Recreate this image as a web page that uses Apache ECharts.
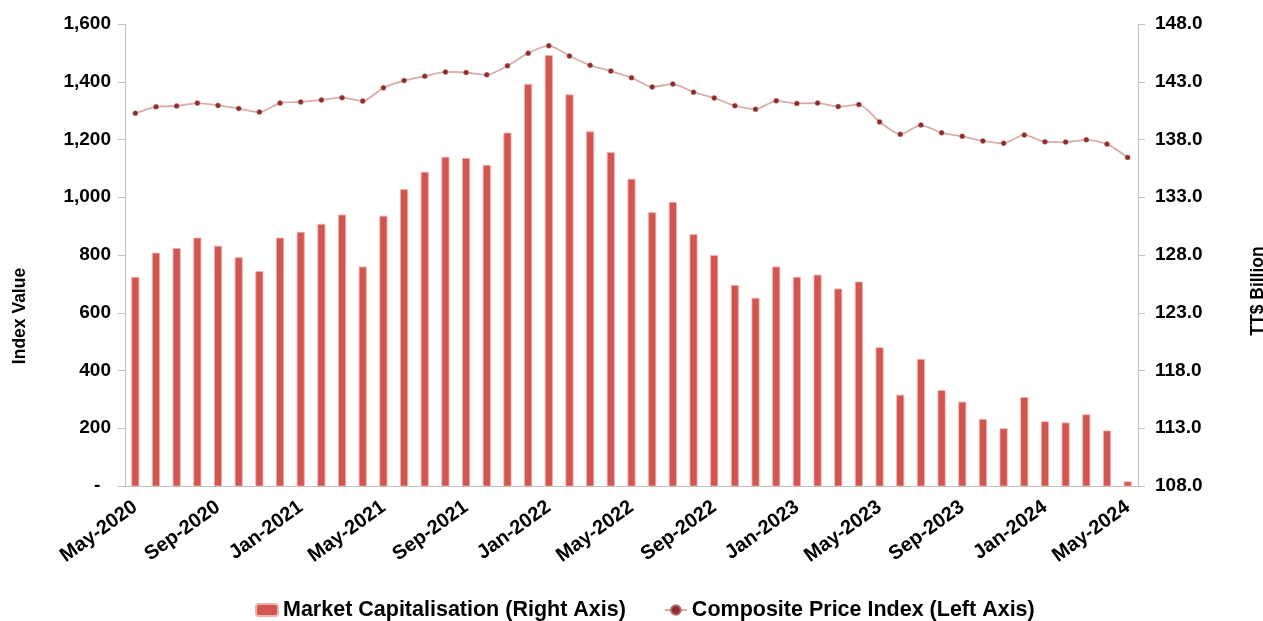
<!DOCTYPE html>
<html>
<head>
<meta charset="utf-8">
<script src="https://cdn.jsdelivr.net/npm/echarts@6/dist/echarts.min.js"></script>
<style>
html,body{margin:0;padding:0;background:#fff;overflow:hidden;}
#chart{width:1263px;height:621px;}
</style>
</head>
<body>
<div id="chart"></div>
<script>
const categories = [
  'May-2020','Jun-2020','Jul-2020','Aug-2020','Sep-2020','Oct-2020','Nov-2020','Dec-2020',
  'Jan-2021','Feb-2021','Mar-2021','Apr-2021','May-2021','Jun-2021','Jul-2021','Aug-2021',
  'Sep-2021','Oct-2021','Nov-2021','Dec-2021','Jan-2022','Feb-2022','Mar-2022','Apr-2022',
  'May-2022','Jun-2022','Jul-2022','Aug-2022','Sep-2022','Oct-2022','Nov-2022','Dec-2022',
  'Jan-2023','Feb-2023','Mar-2023','Apr-2023','May-2023','Jun-2023','Jul-2023','Aug-2023',
  'Sep-2023','Oct-2023','Nov-2023','Dec-2023','Jan-2024','Feb-2024','Mar-2024','Apr-2024',
  'May-2024'
];
// Market Capitalisation, TT$ Billion (right axis)
const marketCap = [
  126.1, 128.2, 128.6, 129.5, 128.8, 127.8, 126.6, 129.5, 130.0, 130.7,
  131.5, 127.0, 131.4, 133.7, 135.2, 136.5, 136.4, 135.8, 138.6, 142.8,
  145.3, 141.9, 138.7, 136.9, 134.6, 131.7, 132.6, 129.8, 128.0, 125.4,
  124.3, 127.0, 126.1, 126.3, 125.1, 125.7, 120.0, 115.9, 119.0, 116.3,
  115.3, 113.8, 113.0, 115.7, 113.6, 113.5, 114.2, 112.8, 108.4
];
// Composite Price Index (left axis)
const compositeIndex = [
  1291, 1313, 1316, 1326, 1318, 1307, 1295, 1326, 1330, 1337,
  1345, 1333, 1379, 1404, 1419, 1434, 1432, 1424, 1455, 1499,
  1525, 1489, 1457, 1437, 1414, 1382, 1392, 1364, 1344, 1317,
  1305, 1334, 1325, 1326, 1314, 1321, 1261, 1218, 1250, 1223,
  1211, 1195, 1187, 1216, 1192, 1191, 1199, 1184, 1138
];
const seriesNames = ['Market Capitalisation (Right Axis)', 'Composite Price Index (Left Axis)'];
const axisNames = ['Index Value', 'TT$ Billion'];

const FONT = '"Liberation Sans", Arial, sans-serif';
const axisLineStyle = { color: '#bfbfbf', width: 1 };

const chart = echarts.init(document.getElementById('chart'), null, { renderer: 'canvas' });
chart.setOption({
  animation: false,
  backgroundColor: '#ffffff',
  grid: { left: 125, right: 125, top: 24, bottom: 135, containLabel: false, outerBoundsMode: 'none' },
  legend: {
    left: 255, top: 599, padding: 0,
    itemWidth: 22, itemHeight: 12, itemGap: 38,
    textStyle: { fontFamily: FONT, fontWeight: 'bold', fontSize: 21.5, color: '#000' },
    data: seriesNames
  },
  xAxis: {
    type: 'category',
    data: categories,
    boundaryGap: true,
    axisLine: { lineStyle: axisLineStyle },
    axisTick: { interval: 3, length: 6, lineStyle: axisLineStyle },
    axisLabel: {
      interval: 3, rotate: 36, margin: 19,
      fontFamily: FONT, fontWeight: 'bold', fontSize: 20, color: '#000'
    },
    splitLine: { show: false }
  },
  yAxis: [
    {
      type: 'value', position: 'left',
      min: 0, max: 1600, interval: 200,
      name: axisNames[0], nameLocation: 'middle', nameGap: 96,
      nameTextStyle: { fontFamily: FONT, fontWeight: 'bold', fontSize: 17.5, color: '#000', padding: [0, 122, 0, 0] },
      axisLine: { show: true, lineStyle: axisLineStyle },
      axisTick: { show: true, length: 7, lineStyle: axisLineStyle },
      axisLabel: {
        margin: 14, fontFamily: FONT, fontWeight: 'bold', fontSize: 19, color: '#000',
        formatter: function (v) { return v === 0 ? '-  ' : v.toLocaleString('en-US'); }
      },
      splitLine: { show: false }
    },
    {
      type: 'value', position: 'right',
      min: 108, max: 148, interval: 5,
      name: axisNames[1], nameLocation: 'middle', nameGap: 111,
      nameTextStyle: { fontFamily: FONT, fontWeight: 'bold', fontSize: 17.5, color: '#000', padding: [0, 72, 0, 0] },
      axisLine: { show: true, lineStyle: axisLineStyle },
      axisTick: { show: true, length: 7, lineStyle: axisLineStyle },
      axisLabel: {
        margin: 17, fontFamily: FONT, fontWeight: 'bold', fontSize: 19, color: '#000',
        formatter: function (v) { return v.toFixed(1); }
      },
      splitLine: { show: false }
    }
  ],
  series: [
    {
      name: seriesNames[0],
      type: 'bar',
      yAxisIndex: 1,
      data: marketCap,
      barWidth: 8,
      clip: true,
      itemStyle: { color: '#D3554F', borderColor: '#EDB3B0', borderWidth: 0.8 }
    },
    {
      name: seriesNames[1],
      type: 'line',
      yAxisIndex: 0,
      data: compositeIndex,
      smooth: 0.25,
      symbol: 'circle',
      symbolSize: 5,
      lineStyle: { color: '#D6AEAA', width: 1.8 },
      itemStyle: { color: '#8E2B2B', borderColor: '#B56A66', borderWidth: 0.5 },
      z: 3
    }
  ]
});
</script>
</body>
</html>
